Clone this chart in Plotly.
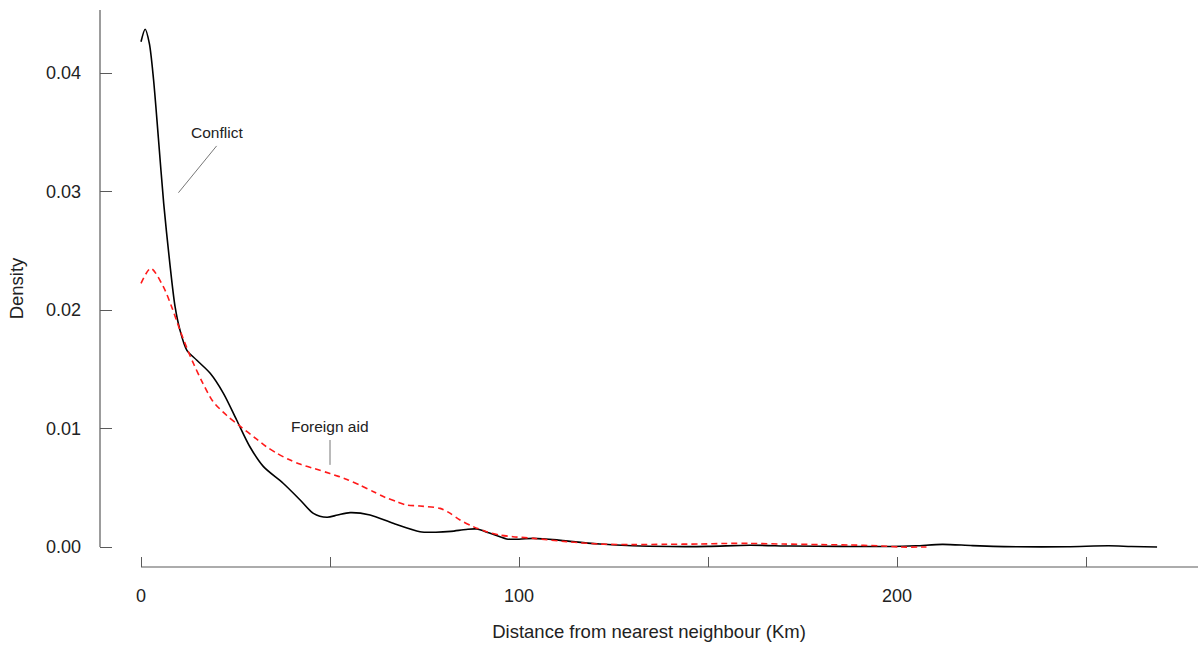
import plotly.graph_objects as go

# Kernel density estimates of nearest-neighbour distances
conflict_x = [0, 1.1, 2.2, 3.3, 4.6, 6.0, 7.6, 9.0, 10.3, 12.1, 14.7, 18.3, 21.8,
              25.3, 28.8, 32.4, 37.6, 42.1, 45.6, 49.2, 52, 55.3, 60.6, 66.7, 73.8, 78,
              82, 86, 88.8, 92, 96.7, 100, 103.8, 110, 114.3, 121.4, 130, 140, 150, 161,
              172, 185, 198, 205, 212, 220, 231.7, 245, 256, 262, 268.8]
conflict_y = [0.04264, 0.04369, 0.0425, 0.0395, 0.0345, 0.0290, 0.0240, 0.0203,
              0.01831, 0.01662, 0.01578, 0.01466, 0.01297, 0.01072, 0.00846, 0.00678,
              0.00538, 0.00397, 0.00284, 0.00251, 0.0027, 0.0029, 0.0027, 0.0020, 0.00129,
              0.00125, 0.00132, 0.00148, 0.00152, 0.0012, 0.00068, 0.00066, 0.00073,
              0.0006, 0.00045, 0.00025, 0.0001, 0.00004, 0.00005, 0.00015, 0.00008,
              0.00005, 0.00004, 0.0001, 0.00022, 0.00012, 0.00002, 0.00002, 0.0001,
              0.00004, 0.0]

aid_x = [0, 2.6, 5.9, 8.1, 10.3, 12.5, 14, 16, 19, 22.7, 26.2, 30.6, 33, 36, 39, 42,
         46, 50, 54.5, 58, 61.5, 64.5, 67.7, 70.3, 73.8, 79.1, 81.5, 84.4, 88, 91.4, 95,
         98.4, 103.8, 112.6, 121.4, 130, 139, 147.9, 155, 161, 170, 180, 187.6, 195,
         200.8, 207.8]
aid_y = [0.02225, 0.02352, 0.02197, 0.02028, 0.01831, 0.0165, 0.0154, 0.01405, 0.0123,
         0.0111, 0.0102, 0.0091, 0.0085, 0.0079, 0.0074, 0.0070, 0.0066, 0.0062,
         0.0057, 0.0052, 0.00467, 0.0042, 0.00382, 0.00354, 0.00346, 0.00326, 0.0029,
         0.00228, 0.0017, 0.00129, 0.0010, 0.00087, 0.00073, 0.00045, 0.00025, 0.0002,
         0.00023, 0.00025, 0.0003, 0.0003, 0.00025, 0.0002, 0.00017, 0.0001, 0.0, 0.0]

x_ticks = [0, 50, 100, 150, 200, 250]
x_tick_labels = ["0", "", "100", "", "200", ""]
y_ticks = [0.0, 0.01, 0.02, 0.03, 0.04]
y_tick_labels = ["0.00", "0.01", "0.02", "0.03", "0.04"]

X_RANGE = [-10.85, 279.63]
Y_RANGE = [-0.001688, 0.04532]
FONT = "Liberation Sans, Arial, sans-serif"
AXIS_GREY = "#5a5a5a"

fig = go.Figure()
fig.add_trace(go.Scatter(x=conflict_x, y=conflict_y, mode="lines", name="Conflict",
                         line=dict(color="black", width=1.6, shape="spline", smoothing=0.8)))
fig.add_trace(go.Scatter(x=aid_x, y=aid_y, mode="lines", name="Foreign aid",
                         line=dict(color="#ff1a1a", width=1.6, dash="6px,4px",
                                   shape="spline", smoothing=0.8)))

# Range-frame axis lines
fig.add_shape(type="line", xref="paper", yref="y", x0=0, x1=0, y0=0, y1=Y_RANGE[1],
              line=dict(color=AXIS_GREY, width=1.2))
fig.add_shape(type="line", xref="x", yref="paper", x0=0, x1=X_RANGE[1], y0=0, y1=0,
              line=dict(color=AXIS_GREY, width=1.2))

# Direct labels for the two curves
fig.add_annotation(x=20.2, y=0.0350, text="Conflict", showarrow=False,
                   font=dict(family=FONT, size=15.5, color="#222"))
fig.add_shape(type="line", xref="x", yref="y", x0=20.0, y0=0.03385, x1=9.9, y1=0.0299,
              line=dict(color="#777", width=1))
fig.add_annotation(x=50.0, y=0.01013, text="Foreign aid", showarrow=False,
                   font=dict(family=FONT, size=15.5, color="#222"))
fig.add_shape(type="line", xref="x", yref="y", x0=50.0, y0=0.00903, x1=50.0, y1=0.00693,
              line=dict(color="#777", width=1))

fig.update_layout(
    width=1198, height=648,
    margin=dict(l=100, r=0, t=10, b=81),
    paper_bgcolor="white", plot_bgcolor="white",
    showlegend=False,
    font=dict(family=FONT, size=18, color="#222"),
    xaxis=dict(range=X_RANGE, tickvals=x_ticks, ticktext=x_tick_labels,
               ticks="inside", ticklen=10, tickcolor=AXIS_GREY, tickwidth=1.2,
               showline=False, showgrid=False, zeroline=False,
               ticklabelstandoff=16,
               title=dict(text="Distance from nearest neighbour (Km)",
                          font=dict(size=18.5), standoff=20)),
    yaxis=dict(range=Y_RANGE, tickvals=y_ticks, ticktext=y_tick_labels,
               ticks="inside", ticklen=12, tickcolor=AXIS_GREY, tickwidth=1.2,
               showline=False, showgrid=False, zeroline=False,
               ticklabelstandoff=18,
               title=dict(text="Density", font=dict(size=18.5), standoff=17)),
)

fig.write_html("out.html")
